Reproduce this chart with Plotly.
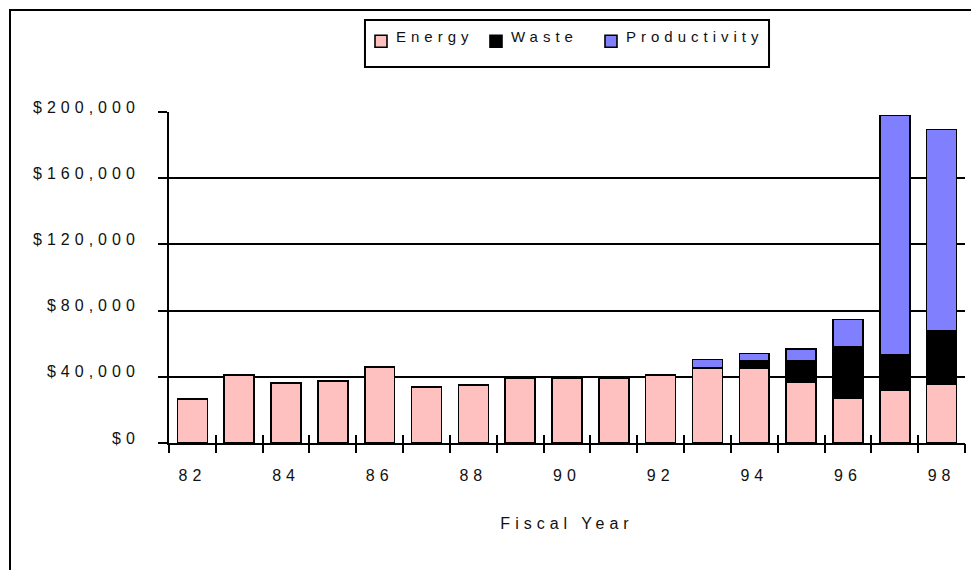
import plotly.graph_objects as go

years = [82, 83, 84, 85, 86, 87, 88, 89, 90, 91, 92, 93, 94, 95, 96, 97, 98]
energy = [26500, 41000, 36400, 37500, 46100, 34000, 35200, 38900, 38900, 38900,
          41000, 45300, 45300, 36600, 27000, 31800, 35400]
waste = [None, None, None, None, None, None, None, None, None, None,
         None, None, 4200, 12900, 31200, 21600, 32600]
productivity = [None, None, None, None, None, None, None, None, None, None,
                None, 5200, 4600, 7300, 16500, 144600, 121500]
x_tick_vals = [82, 84, 86, 88, 90, 92, 94, 96, 98]
x_tick_text = ["82", "84", "86", "88", "90", "92", "94", "96", "98"]
y_tick_vals = [0, 40000, 80000, 120000, 160000, 200000]
y_tick_text = ["$0", "$40,000", "$80,000", "$120,000", "$160,000", "$200,000"]

FONT = "Liberation Sans, Arial, sans-serif"
TXT = "#111111"
bar_line = dict(color="black", width=1.6)

fig = go.Figure()
fig.add_trace(go.Bar(x=years, y=energy, name="Energy", width=0.64,
                     marker=dict(color="#FFC0C0", line=bar_line)))
fig.add_trace(go.Bar(x=years, y=waste, name="Waste", width=0.64,
                     marker=dict(color="#000000", line=bar_line)))
fig.add_trace(go.Bar(x=years, y=productivity, name="Productivity", width=0.64,
                     marker=dict(color="#8080FF", line=bar_line)))

boundaries = [y - 0.5 for y in years] + [years[-1] + 0.5]
xr = [years[0] - 0.5, years[-1] + 0.5]

fig.update_layout(
    barmode="stack",
    width=971, height=570,
    margin=dict(l=169, r=6, t=112, b=127),
    paper_bgcolor="white", plot_bgcolor="white",
    font=dict(family=FONT, size=16, color=TXT),
    showlegend=True,
    legend=dict(orientation="h", x=0.2412, xanchor="left", y=1.2628, yanchor="top",
                bgcolor="rgba(0,0,0,0)", borderwidth=0, entrywidth=70,
                entrywidthmode="pixels", font=dict(family=FONT, size=15, color=TXT),
                traceorder="normal"),
    xaxis=dict(range=xr, tickvals=x_tick_vals, ticktext=x_tick_text, ticks="",
               showline=True, linecolor="black", linewidth=2, showgrid=False,
               zeroline=False, ticklabelstandoff=17,
               title=dict(text="Fiscal Year", standoff=35, font=dict(family=FONT, size=16))),
    xaxis2=dict(overlaying="x", range=xr, tickvals=boundaries, ticks="outside",
                ticklen=9, tickwidth=2, tickcolor="black", showticklabels=False,
                showline=False, showgrid=False, zeroline=False, side="bottom",
                anchor="y"),
    xaxis3=dict(overlaying="x", range=xr, tickvals=boundaries, ticks="inside",
                ticklen=8, tickwidth=2, tickcolor="black", showticklabels=False,
                showline=False, showgrid=False, zeroline=False, side="bottom",
                anchor="y"),
    yaxis=dict(range=[0, 200000], tickvals=y_tick_vals, ticktext=y_tick_text,
               ticks="outside", ticklen=9, tickwidth=2, tickcolor="black",
               showline=True, linecolor="black", linewidth=2,
               showgrid=True, gridcolor="black", gridwidth=2, zeroline=False,
               ticklabelstandoff=15, ticklabelshift=-5),
    shapes=[
        dict(type="rect", xref="paper", yref="paper", x0=-0.19975, x1=1.3, y0=-0.7, y1=1.3082,
             line=dict(color="black", width=2), fillcolor="rgba(0,0,0,0)", layer="below"),
        dict(type="rect", xref="paper", yref="paper", x0=0.2462, x1=0.7538, y0=1.136, y1=1.2779,
             line=dict(color="black", width=2), fillcolor="rgba(0,0,0,0)", layer="above"),
    ],
)
# invisible helper traces so the overlay tick axes are drawn
fig.add_trace(go.Scatter(x=[years[0]], y=[0], xaxis="x2", mode="markers",
                         marker=dict(opacity=0), showlegend=False, hoverinfo="skip"))
fig.add_trace(go.Scatter(x=[years[0]], y=[0], xaxis="x3", mode="markers",
                         marker=dict(opacity=0), showlegend=False, hoverinfo="skip"))

post = ("var s=document.createElement('style');"
        "s.textContent='body{margin:0 !important;} svg text{letter-spacing:5px !important;}"
        " g.scrollbox{clip-path:none !important;}"
        " .legend text.legendtext{transform:translate(-5px,-5px);}';"
        "document.head.appendChild(s);")
fig.write_html("out.html", post_script=post, config={"displayModeBar": False})
